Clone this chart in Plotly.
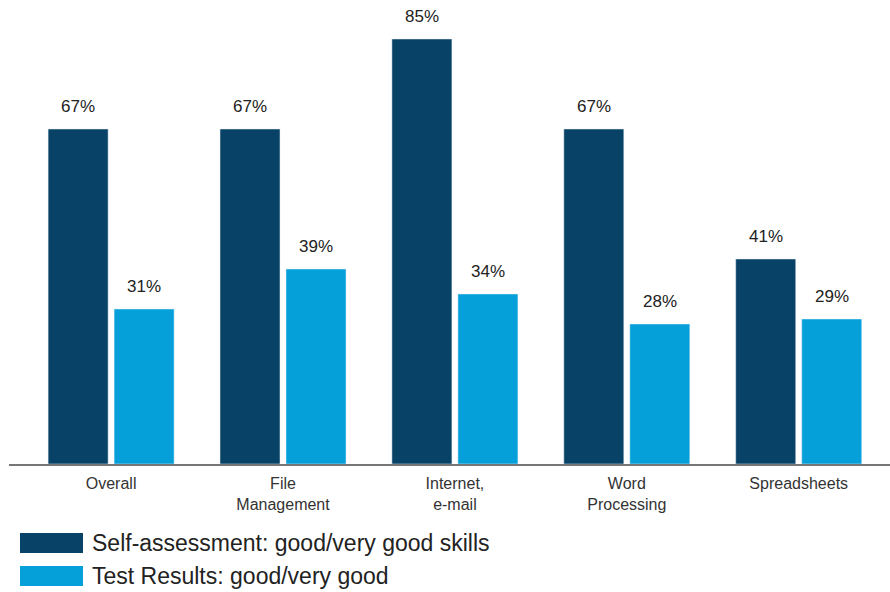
import plotly.graph_objects as go

categories = ["Overall", "File<br>Management", "Internet,<br>e-mail", "Word<br>Processing", "Spreadsheets"]
self_assessment = [67, 67, 85, 67, 41]
test_results = [31, 39, 34, 28, 29]
series_names = ["Self-assessment: good/very good skills", "Test Results: good/very good"]
colors = ["#084266", "#05A0DA"]

W = 171.9  # px per category
bw = 60 / W
FONT = "Liberation Sans, Arial, Helvetica, sans-serif"
PH = 450  # plot height px
BASE = 464

fig = go.Figure()
for vals, name, col, off in [(self_assessment, series_names[0], colors[0], -63 / W),
                             (test_results, series_names[1], colors[1], 3 / W)]:
    fig.add_trace(go.Bar(x=categories, y=vals, name=name, marker_color=col,
                         width=bw, offset=off, showlegend=False))
    for c, v in zip(categories, vals):
        fig.add_annotation(x=c, y=v, text=f"{v}%", showarrow=False,
                           xshift=(off + bw / 2) * W, yshift=23,
                           font=dict(family=FONT, size=17, color="#222"))

# manual legend
for i, (name, col) in enumerate(zip(series_names, colors)):
    y0 = 533 + i * 33
    fig.add_shape(type="rect", xref="paper", yref="paper",
                  x0=(20 - 9) / 881, x1=(83 - 9) / 881,
                  y0=(BASE - (y0 + 20)) / PH, y1=(BASE - y0) / PH,
                  fillcolor=col, line_width=0)
    fig.add_annotation(xref="paper", yref="paper", x=(90 - 9) / 881,
                       y=(BASE - (y0 + 10)) / PH, text=name, showarrow=False,
                       xanchor="left", yanchor="middle",
                       font=dict(family=FONT, size=23, color="#222"))

fig.update_layout(
    width=890, height=592,
    margin=dict(l=9, r=0, t=14, b=128),
    plot_bgcolor="white", paper_bgcolor="white",
    barmode="overlay",
    xaxis=dict(type="category", range=[-0.594, 4.531], showline=True,
               linecolor="#777", linewidth=2, ticks="", showgrid=False,
               ticklabelstandoff=4,
               tickfont=dict(family=FONT, size=16, color="#333")),
    yaxis=dict(range=[0, 90], visible=False, showgrid=False, zeroline=False),
)
fig.write_html("out.html", config={"displayModeBar": False},
               post_script="document.body.style.margin='0px';document.body.style.overflow='hidden';")
